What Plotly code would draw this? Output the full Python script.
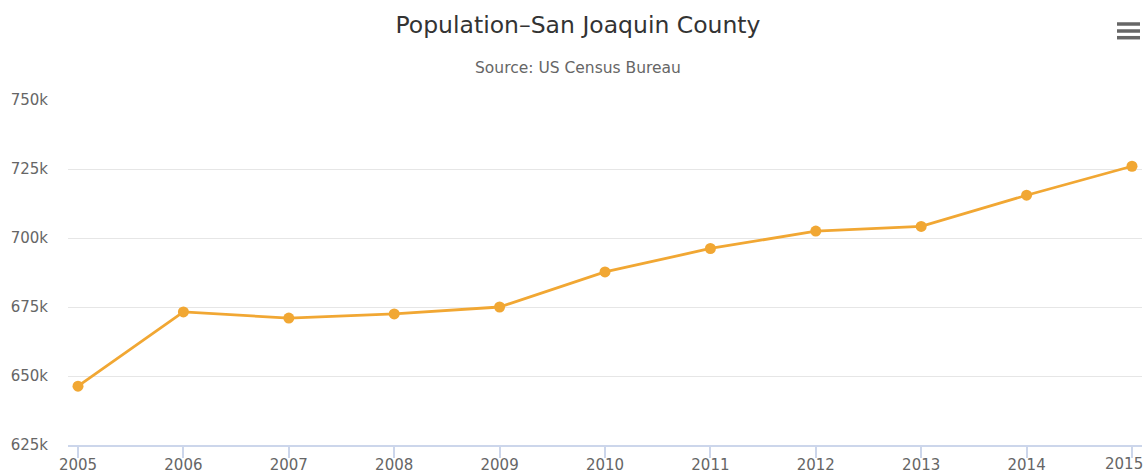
import plotly.graph_objects as go

years = [2005, 2006, 2007, 2008, 2009, 2010, 2011, 2012, 2013, 2014, 2015]
population = [646300, 673200, 671000, 672500, 675000, 687700, 696200, 702500, 704200, 715500, 726000]
y_tickvals = [625000, 650000, 675000, 700000, 725000, 750000]
y_ticktext = ["625k", "650k", "675k", "700k", "725k", "750k"]
title_text = "Population–San Joaquin County"
subtitle_text = "Source: US Census Bureau"

W, H = 1145, 476
ML, MR, MT, MB = 68, 3, 100, 31
FONT = "DejaVu Sans"
COLOR = "#F1A733"

fig = go.Figure()
fig.add_trace(go.Scatter(
    x=years, y=population, mode="lines+markers",
    line=dict(color=COLOR, width=2.8),
    marker=dict(color=COLOR, size=11),
    showlegend=False, cliponaxis=False,
))

pw = W - ML - MR
ph = H - MT - MB

def px_x(x):
    return (x - ML) / pw

def px_y(y):
    return (H - MB - y) / ph

shapes = []
for yy in (24, 31, 37.7):
    shapes.append(dict(type="line", xref="paper", yref="paper",
                       x0=px_x(1117), x1=px_x(1140), y0=px_y(yy), y1=px_y(yy),
                       line=dict(color="#666666", width=3.5)))

# last x label is nudged inward (as the original chart does) so it stays visible
x_ticktext = [str(y) for y in years[:-1]] + [""]

fig.update_layout(
    width=W, height=H,
    margin=dict(l=ML, r=MR, t=MT, b=MB),
    paper_bgcolor="white", plot_bgcolor="white",
    font=dict(family=FONT, color="#666666", size=15),
    title=dict(text=title_text, x=px_x(578), xref="paper", xanchor="center",
               y=1 - 25 / H, yref="container", yanchor="middle",
               font=dict(family=FONT, size=23.5, color="#333333")),
    annotations=[
        dict(text=subtitle_text, xref="paper", yref="paper",
             x=px_x(578), y=px_y(68), xanchor="center", yanchor="middle",
             showarrow=False, font=dict(family=FONT, size=15.5, color="#666666")),
        dict(text=str(years[-1]), xref="x", yref="paper", x=years[-1], y=0,
             xanchor="center", yanchor="middle", xshift=-8, yshift=-19,
             showarrow=False, font=dict(family=FONT, size=15, color="#666666")),
    ],
    shapes=shapes,
    xaxis=dict(range=[2004.905, 2015.095], tickvals=years, ticktext=x_ticktext,
               showgrid=False, zeroline=False, showline=True, linecolor="#ccd6eb", linewidth=1.5,
               ticks="outside", ticklen=11, tickcolor="#ccd6eb", tickwidth=1.5,
               ticklabeloverflow="allow", automargin=False, ticklabelstandoff=-6,
               tickfont=dict(family=FONT, size=15, color="#666666")),
    yaxis=dict(range=[625000, 750000], tickvals=y_tickvals, ticktext=y_ticktext,
               showgrid=True, gridcolor="#e6e6e6", gridwidth=1, zeroline=False,
               showline=False, ticks="", ticklabelstandoff=19, automargin=False,
               tickfont=dict(family=FONT, size=15, color="#666666")),
)

fig.write_html("out.html", config={"displayModeBar": False},
               post_script="document.body.style.margin='0px';")
